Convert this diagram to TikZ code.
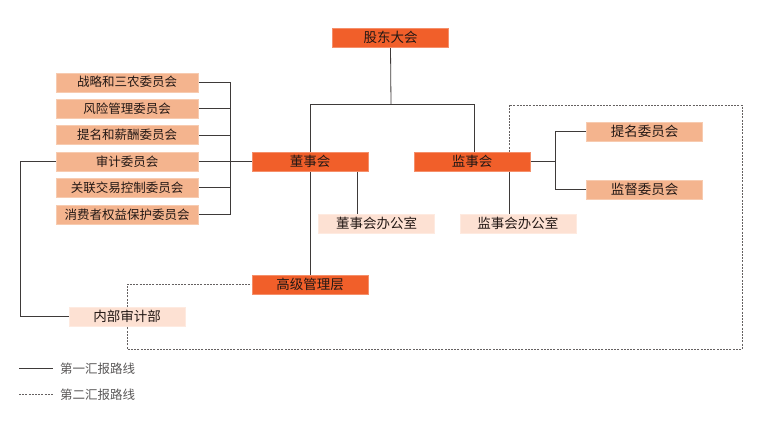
\documentclass[tikz,border=0pt]{standalone}
\usepackage{fontspec}
\setmainfont{Noto Sans CJK SC}
\usetikzlibrary{backgrounds}
\definecolor{dark}{HTML}{F15F2A}
\definecolor{mid}{HTML}{F4B48E}
\definecolor{light}{HTML}{FDE1D3}
\definecolor{txt}{HTML}{231815}
\definecolor{ln}{HTML}{3E3A39}
\definecolor{leg}{HTML}{595757}
\tikzset{
  mainbox/.style={fill=dark, draw=dark!70!white, line width=0.4pt, minimum width=116pt, minimum height=19pt, inner sep=0pt, font=\fontsize{13.5}{14}\selectfont, text=txt},
  combox/.style={fill=mid, draw=mid!70!white, line width=0.4pt, minimum width=142pt, minimum height=19pt, inner sep=0pt, font=\fontsize{12.5}{13}\selectfont, text=txt},
  rcombox/.style={combox, minimum width=116pt, font=\fontsize{13.5}{14}\selectfont},
  offbox/.style={fill=light, draw=light!70!white, line width=0.4pt, minimum width=116pt, minimum height=19pt, inner sep=0pt, font=\fontsize{13.5}{14}\selectfont, text=txt},
  solidln/.style={draw=ln, line width=0.8pt},
  dashln/.style={draw=ln!80, line width=0.8pt, dash pattern=on 2pt off 1.2pt},
  legtext/.style={anchor=west, inner sep=0pt, font=\fontsize{12.5}{13}\selectfont, text=leg}
}
\begin{document}
\begin{tikzpicture}[x=1pt,y=-1pt]
\useasboundingbox (0,0) rectangle (767,420);
% coordinates
\coordinate (top) at (391,104.5);
\coordinate (bus) at (230,0);
\coordinate (la) at (20,161.5);
\coordinate (d1) at (357,0);
\coordinate (j1) at (509,0);
\coordinate (j2) at (474,0);
\coordinate (rb) at (555,0);
\coordinate (q1) at (509,105);
\coordinate (q2) at (742,105);
\coordinate (q3) at (742,349);
\coordinate (q4) at (127,349);
\coordinate (q5) at (127,284.3);
\coordinate (l1a) at (19,368.3);
\coordinate (l1b) at (53,368.3);
\coordinate (l2a) at (19,394.3);
\coordinate (l2b) at (53,394.3);
% nodes
\path
  (390.5,37.5) node[mainbox] (gd) {股东大会}
  (310,161.5) node[mainbox] (dsh) {董事会}
  (472,161.5) node[mainbox] (jsh) {监事会}
  (310,284.3) node[mainbox] (gj) {高级管理层}
  (127,82.2) node[combox] (c1) {战略和三农委员会}
  (127,108.4) node[combox] (c2) {风险管理委员会}
  (127,135) node[combox] (c3) {提名和薪酬委员会}
  (127,161.5) node[combox] (c4) {审计委员会}
  (127,187.7) node[combox] (c5) {关联交易控制委员会}
  (127,214.3) node[combox] (c6) {消费者权益保护委员会}
  (644.5,131.8) node[rcombox] (tm) {提名委员会}
  (644.5,189.5) node[rcombox] (jd) {监督委员会}
  (376.5,223.7) node[offbox] (dbg) {董事会办公室}
  (517.8,223.7) node[offbox] (jbg) {监事会办公室}
  (127,316.7) node[offbox] (nb) {内部审计部};
% legend
\node[legtext] (t1) at (60,368.3) {第一汇报路线};
\node[legtext] (t2) at (60,394.3) {第二汇报路线};
\begin{scope}[on background layer]
  % top tree
  \draw[solidln] (gd.south) -- (top);
  \draw[solidln] (dsh.north) |- (top) -| (jsh.north -| j2);
  % left committees bus
  \draw[solidln] (c1.east) -- (c1.east -| bus) -- (c6.east -| bus) -- (c6.east);
  \draw[solidln] (c2.east) -- (c2.east -| bus);
  \draw[solidln] (c3.east) -- (c3.east -| bus);
  \draw[solidln] (c4.east) -- (dsh.west);
  \draw[solidln] (c5.east) -- (c5.east -| bus);
  % audit
  \draw[solidln] (c4.west) -- (la) |- (nb.west);
  % board down
  \draw[solidln] (dsh.south) -- (gj.north);
  \draw[solidln] (dsh.south -| d1) -- (dbg.north -| d1);
  \draw[solidln] (jsh.south -| j1) -- (jbg.north -| j1);
  % right bracket
  \draw[solidln] (jsh.east) -- (jsh.east -| rb);
  \draw[solidln] (tm.west) -- (tm.west -| rb) -- (jd.west -| rb) -- (jd.west);
  % dashed second line
  \draw[dashln] (jsh.north -| j1) -- (q1) -- (q2) -- (q3) -- (q4) -- (q5) -- (gj.west);
  % legend lines
  \draw[solidln] (l1a) -- (l1b);
  \draw[dashln] (l2a) -- (l2b);
\end{scope}
\end{tikzpicture}
\end{document}
